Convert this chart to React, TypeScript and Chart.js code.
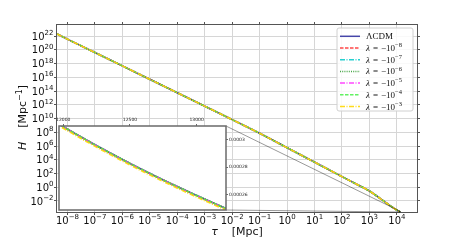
import React, { useEffect, useRef } from "react";
import { Chart, registerables } from "chart.js";

Chart.register(...registerables);

// ---------------- data ----------------
const tau = [4.2e-9, 1e-8, 1e-7, 1e-6, 1e-5, 1e-4, 1e-3, 1e-2, 1e-1, 1, 10, 100, 316, 1000, 3162, 6000, 10000, 12000, 13200];
const hubble = [2.0e22, 3.5e21, 4.0e19, 4.5e17, 5.0e15, 5.6e13, 6.3e11, 6.9e9, 7.1e7, 5.6e5, 4.5e3, 35, 3.2, 0.28, 0.011, 1.8e-3, 4.7e-4, 3.1e-4, 2.5e-4];

const insetTau = [11990, 12200, 12400, 12600, 12800, 13000, 13220];
const insetHubble = [3.096e-4, 2.981e-4, 2.877e-4, 2.778e-4, 2.685e-4, 2.596e-4, 2.502e-4];
const insetHubbleL3 = [3.085e-4, 2.970e-4, 2.866e-4, 2.767e-4, 2.674e-4, 2.585e-4, 2.491e-4];

const seriesNames = ["ΛCDM", "λ = −10⁻⁸", "λ = −10⁻⁷", "λ = −10⁻⁶", "λ = −10⁻⁵", "λ = −10⁻⁴", "λ = −10⁻³"];
const lambdaExponents = ["", "−8", "−7", "−6", "−5", "−4", "−3"];

const tauTicks = [1e-8, 1e-7, 1e-6, 1e-5, 1e-4, 1e-3, 1e-2, 1e-1, 1, 10, 100, 1000, 10000];
const tauTickExponents = ["−8", "−7", "−6", "−5", "−4", "−3", "−2", "−1", "0", "1", "2", "3", "4"];
const hTicks = [1e-2, 1, 1e2, 1e4, 1e6, 1e8, 1e10, 1e12, 1e14, 1e16, 1e18, 1e20, 1e22];
const hTickExponents = ["−2", "0", "2", "4", "6", "8", "10", "12", "14", "16", "18", "20", "22"];

const insetTauTicks = [12000, 12500, 13000];
const insetTauTickLabels = ["12000", "12500", "13000"];
const insetHTicks = [0.00026, 0.00028, 0.0003];
const insetHTickLabels = ["0.00026", "0.00028", "0.0003"];

const X_RANGE = [4.17e-9, 5.4e4];
const Y_RANGE = [2.51e-4, 4.0e23];
const INSET_X_RANGE = [11968, 13220];
const INSET_Y_RANGE = [2.492e-4, 3.096e-4];

// ---------------- layout & style ----------------
const W = 463;
const H = 243;
const MAIN = { left: 57, top: 25, right: 417, bottom: 212 };
const INSET = { left: 59, top: 126, right: 226, bottom: 210 };
const GRID = "#d6d6d6";
const FRAME = "#555555";
const TEXT = "#111111";
const SANS = "'DejaVu Sans'";
const SERIF = "'Liberation Serif'";

const styles = [
  { color: "rgba(50,50,160,0.9)", dash: [] as number[] },
  { color: "rgba(255,40,40,0.85)", dash: [3.5, 1.5] },
  { color: "rgba(0,200,200,0.85)", dash: [5, 1.5, 1, 1.5] },
  { color: "rgba(40,150,40,0.85)", dash: [1, 1.2] },
  { color: "rgba(255,40,255,0.85)", dash: [5, 1.5, 1, 1.5] },
  { color: "rgba(70,240,70,0.85)", dash: [3.5, 1.5] },
  { color: "rgba(255,215,0,0.9)", dash: [5, 1.5, 1, 1.5] },
];

Chart.defaults.font.family = SANS;

function drawPow(ctx: CanvasRenderingContext2D, x: number, baseline: number, base: string, exp: string,
  align: "left" | "center" | "right", baseFont: string, supFont: string, rise: number) {
  ctx.font = baseFont;
  const wb = ctx.measureText(base).width;
  ctx.font = supFont;
  const we = ctx.measureText(exp).width;
  const total = wb + we;
  const x0 = align === "center" ? x - total / 2 : align === "right" ? x - total : x;
  ctx.textAlign = "left";
  ctx.textBaseline = "alphabetic";
  ctx.font = baseFont;
  ctx.fillText(base, x0, baseline);
  ctx.font = supFont;
  ctx.fillText(exp, x0 + wb, baseline - rise);
  return total;
}

const align = (p: number) => Math.round(p - 0.5) + 0.5;

const mainDecor = {
  id: "mainDecor",
  afterDraw(chart: any) {
    const { ctx, chartArea: a, scales } = chart;
    const xs = scales.x;
    const ys = scales.y;
    ctx.save();
    // frame
    ctx.strokeStyle = FRAME;
    ctx.lineWidth = 1;
    ctx.setLineDash([]);
    ctx.strokeRect(a.left - 0.5, a.top - 0.5, a.right - a.left + 1, a.bottom - a.top + 1);
    // ticks
    ctx.beginPath();
    tauTicks.forEach((v) => {
      const px = align(xs.getPixelForValue(v));
      ctx.moveTo(px, a.bottom);
      ctx.lineTo(px, a.bottom + 3);
      ctx.moveTo(px, a.top);
      ctx.lineTo(px, a.top - 3);
    });
    hTicks.forEach((v) => {
      const py = align(ys.getPixelForValue(v));
      ctx.moveTo(a.left, py);
      ctx.lineTo(a.left - 3, py);
      ctx.moveTo(a.right, py);
      ctx.lineTo(a.right + 3, py);
    });
    ctx.stroke();

    // tick labels
    ctx.fillStyle = TEXT;
    tauTicks.forEach((v, i) => {
      const px = xs.getPixelForValue(v);
      drawPow(ctx, px, 224, "10", tauTickExponents[i], "center", `10px ${SANS}`, `7px ${SANS}`, 4.6);
    });
    hTicks.forEach((v, i) => {
      const py = ys.getPixelForValue(v);
      drawPow(ctx, 53.5, py + 3.6, "10", hTickExponents[i], "right", `10px ${SANS}`, `7px ${SANS}`, 4.4);
    });

    // x title
    {
      const f = `11px ${SANS}`;
      const fi = `italic 11px ${SANS}`;
      ctx.font = fi;
      const w1 = ctx.measureText("τ").width;
      ctx.font = f;
      const w2 = ctx.measureText("    [Mpc]").width;
      const cx = (a.left + a.right) / 2;
      const x0 = cx - (w1 + w2) / 2;
      ctx.textAlign = "left";
      ctx.textBaseline = "alphabetic";
      ctx.font = fi;
      ctx.fillText("τ", x0, 235);
      ctx.font = f;
      ctx.fillText("    [Mpc]", x0 + w1, 235);
    }
    // y title
    {
      const f = `11px ${SANS}`;
      const fi = `italic 11px ${SANS}`;
      const fs = `8px ${SANS}`;
      ctx.save();
      ctx.translate(26, (a.top + a.bottom) / 2 - 1);
      ctx.rotate(-Math.PI / 2);
      ctx.font = fi;
      const w1 = ctx.measureText("H").width;
      ctx.font = f;
      const w2 = ctx.measureText("    [Mpc").width;
      ctx.font = fs;
      const w3 = ctx.measureText("−1").width;
      ctx.font = f;
      const w4 = ctx.measureText("]").width;
      let x0 = -(w1 + w2 + w3 + w4) / 2;
      ctx.textAlign = "left";
      ctx.textBaseline = "alphabetic";
      ctx.font = fi;
      ctx.fillText("H", x0, 0);
      x0 += w1;
      ctx.font = f;
      ctx.fillText("    [Mpc", x0, 0);
      x0 += w2;
      ctx.font = fs;
      ctx.fillText("−1", x0, -4.5);
      x0 += w3;
      ctx.font = f;
      ctx.fillText("]", x0, 0);
      ctx.restore();
    }

    // legend
    {
      const L = { left: 337, top: 28, right: 413, bottom: 111 };
      ctx.beginPath();
      const r = 2;
      ctx.moveTo(L.left + r, L.top);
      ctx.arcTo(L.right, L.top, L.right, L.bottom, r);
      ctx.arcTo(L.right, L.bottom, L.left, L.bottom, r);
      ctx.arcTo(L.left, L.bottom, L.left, L.top, r);
      ctx.arcTo(L.left, L.top, L.right, L.top, r);
      ctx.closePath();
      ctx.fillStyle = "rgba(255,255,255,0.85)";
      ctx.fill();
      ctx.strokeStyle = "#d0d0d0";
      ctx.lineWidth = 1;
      ctx.stroke();
      seriesNames.forEach((name, i) => {
        const y = 36.3 + i * 11.7;
        ctx.strokeStyle = styles[i].color;
        ctx.lineWidth = 1.5;
        ctx.setLineDash(styles[i].dash);
        ctx.beginPath();
        ctx.moveTo(340, y);
        ctx.lineTo(360, y);
        ctx.stroke();
        ctx.setLineDash([]);
        ctx.fillStyle = TEXT;
        ctx.textAlign = "left";
        ctx.textBaseline = "alphabetic";
        if (i === 0) {
          ctx.font = `9px ${SERIF}`;
          ctx.fillText(name, 366, y + 3);
        } else {
          let x = 366;
          ctx.font = `italic 9px ${SERIF}`;
          ctx.fillText("λ", x, y + 3);
          x += ctx.measureText("λ").width + 3;
          ctx.font = `9px ${SERIF}`;
          ctx.fillText("=", x, y + 3);
          x += ctx.measureText("=").width + 3;
          drawPow(ctx, x, y + 3, "−10", lambdaExponents[i], "left", `9px ${SERIF}`, `6.5px ${SERIF}`, 3.8);
        }
      });
    }

    // inset connectors (mark_inset)
    {
      const rx0 = xs.getPixelForValue(INSET_X_RANGE[0]);
      const rx1 = xs.getPixelForValue(INSET_X_RANGE[1]);
      const ryT = ys.getPixelForValue(INSET_Y_RANGE[1]);
      const ryB = ys.getPixelForValue(INSET_Y_RANGE[0]);
      ctx.strokeStyle = "rgba(0,0,0,0.4)";
      ctx.lineWidth = 1;
      ctx.beginPath();
      ctx.moveTo(INSET.right, INSET.top);
      ctx.lineTo(rx1, ryT);
      ctx.moveTo(INSET.right, INSET.bottom);
      ctx.lineTo(rx1, ryB);
      ctx.rect(rx0, ryT, rx1 - rx0, ryB - ryT);
      ctx.stroke();
    }
    ctx.restore();
  },
};

const insetDecor = {
  id: "insetDecor",
  beforeDraw(chart: any) {
    const { ctx, chartArea: a } = chart;
    ctx.save();
    ctx.fillStyle = "#ffffff";
    ctx.fillRect(a.left, a.top, a.right - a.left, a.bottom - a.top);
    ctx.restore();
  },
  afterDraw(chart: any) {
    const { ctx, chartArea: a } = chart;
    ctx.save();
    ctx.strokeStyle = "#6a6a6a";
    ctx.lineWidth = 1.5;
    ctx.strokeRect(a.left, a.top, a.right - a.left, a.bottom - a.top);
    ctx.restore();
  },
};

export default function App() {
  const mainRef = useRef<HTMLCanvasElement>(null);
  const insetRef = useRef<HTMLCanvasElement>(null);

  useEffect(() => {
    document.body.style.margin = "0";
    const mainData = seriesNames.map((name, i) => ({
      label: name,
      data: tau.map((t, k) => ({ x: t, y: hubble[k] })),
      borderColor: styles[i].color,
      borderWidth: 1.6,
      borderDash: styles[i].dash,
      pointRadius: 0,
      fill: false,
      cubicInterpolationMode: "monotone",
      order: seriesNames.length - 1 - i,
      clip: 0,
    }));
    const mainChart = new Chart(mainRef.current as HTMLCanvasElement, {
      type: "line",
      data: { datasets: mainData as any },
      options: {
        responsive: false,
        animation: false,
        devicePixelRatio: 1,
        events: [],
        parsing: false as any,
        layout: { padding: { left: 0, top: MAIN.top, right: W - MAIN.right, bottom: 0 } },
        plugins: { legend: { display: false }, tooltip: { enabled: false } },
        scales: {
          x: {
            type: "logarithmic",
            position: "bottom",
            bounds: "data",
            min: X_RANGE[0],
            max: X_RANGE[1],
            afterBuildTicks: (s: any) => { s.ticks = tauTicks.map((v) => ({ value: v })); },
            afterFit: (s: any) => { s.height = H - MAIN.bottom; },
            ticks: { display: false },
            grid: { color: GRID, lineWidth: 1, drawTicks: false },
            border: { display: false },
          },
          y: {
            type: "logarithmic",
            position: "left",
            bounds: "data",
            min: Y_RANGE[0],
            max: Y_RANGE[1],
            afterBuildTicks: (s: any) => { s.ticks = hTicks.map((v) => ({ value: v })); },
            afterFit: (s: any) => { s.width = MAIN.left; },
            ticks: { display: false },
            grid: { color: GRID, lineWidth: 1, drawTicks: false },
            border: { display: false },
          },
        },
      } as any,
      plugins: [mainDecor],
    });

    const insetData = seriesNames.map((name, i) => ({
      label: name,
      data: insetTau.map((t, k) => ({ x: t, y: (i === 6 ? insetHubbleL3 : insetHubble)[k] })),
      borderColor: styles[i].color,
      borderWidth: 1.6,
      borderDash: styles[i].dash,
      pointRadius: 0,
      fill: false,
      cubicInterpolationMode: "monotone",
      order: seriesNames.length - 1 - i,
      clip: 0,
    }));
    const insetChart = new Chart(insetRef.current as HTMLCanvasElement, {
      type: "line",
      data: { datasets: insetData as any },
      options: {
        responsive: false,
        animation: false,
        devicePixelRatio: 1,
        events: [],
        parsing: false as any,
        layout: { padding: { left: INSET.left, top: INSET.top - 10, right: W - INSET.right - 40, bottom: H - INSET.bottom } },
        plugins: { legend: { display: false }, tooltip: { enabled: false } },
        scales: {
          x: {
            type: "linear",
            position: "top",
            bounds: "data",
            min: INSET_X_RANGE[0],
            max: INSET_X_RANGE[1],
            afterBuildTicks: (s: any) => { s.ticks = insetTauTicks.map((v) => ({ value: v })); },
            afterFit: (s: any) => { s.height = 10; },
            ticks: {
              font: { size: 4.5, family: SANS },
              color: "#222",
              padding: 1,
              maxRotation: 0,
              minRotation: 0,
              autoSkip: false,
              callback: (_v: any, i: number) => insetTauTickLabels[i],
            },
            grid: { drawOnChartArea: false, drawTicks: true, tickLength: 2, tickColor: "#444", lineWidth: 0.8 },
            border: { display: false },
          },
          y: {
            type: "linear",
            position: "right",
            bounds: "data",
            min: INSET_Y_RANGE[0],
            max: INSET_Y_RANGE[1],
            afterBuildTicks: (s: any) => { s.ticks = insetHTicks.map((v) => ({ value: v })); },
            afterFit: (s: any) => { s.width = 40; },
            ticks: {
              font: { size: 4.5, family: SANS },
              color: "#222",
              padding: 1,
              autoSkip: false,
              callback: (_v: any, i: number) => insetHTickLabels[i],
            },
            grid: { drawOnChartArea: false, drawTicks: true, tickLength: 2, tickColor: "#444", lineWidth: 0.8 },
            border: { display: false },
          },
        },
      } as any,
      plugins: [insetDecor],
    });

    return () => {
      mainChart.destroy();
      insetChart.destroy();
    };
  }, []);

  return (
    <div style={{ position: "absolute", left: 0, top: 0, width: W, height: H, background: "#ffffff" }}>
      <canvas ref={mainRef} width={W} height={H} style={{ position: "absolute", left: 0, top: 0, width: W, height: H }} />
      <canvas ref={insetRef} width={W} height={H} style={{ position: "absolute", left: 0, top: 0, width: W, height: H, pointerEvents: "none" }} />
    </div>
  );
}
